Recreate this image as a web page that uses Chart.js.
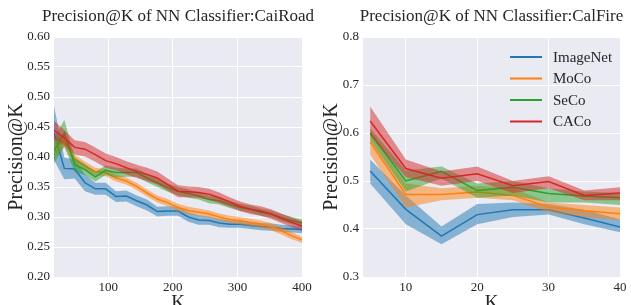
<!DOCTYPE html>
<html lang="en">
<head>
    <meta charset="UTF-8">
    <title>Precision@K of NN Classifier</title>
    <style>
        body {
            margin: 0;
            padding: 0;
            background: #ffffff;
            overflow: hidden;
        }
        #wrap {
            position: relative;
            width: 631px;
            height: 305px;
            overflow: hidden;
        }
        #roadChart {
            position: absolute;
            left: 0;
            top: 0;
        }
        #fireChart {
            position: absolute;
            left: 315px;
            top: 0;
        }
    </style>
</head>
<body>
    <div id="wrap">
        <canvas id="roadChart" width="315" height="320"></canvas>
        <canvas id="fireChart" width="316" height="320"></canvas>
    </div>

    <script src="https://cdn.jsdelivr.net/npm/chart.js"></script>
    <script>
        const methods = ['ImageNet', 'MoCo', 'SeCo', 'CACo'];
        const colors = ['#1f77b4', '#ff7f0e', '#2ca02c', '#d62728'];
        const bands = ['rgba(31,119,180,0.5)', 'rgba(255,127,14,0.5)', 'rgba(44,160,44,0.5)', 'rgba(214,39,40,0.5)'];

        // CaiRoad
        const roadK = [16, 32, 48, 64, 80, 96, 112, 128, 144, 160, 176, 192, 208, 224, 240, 256, 272, 288, 304, 320, 336, 352, 368, 384, 400];
        const roadImageNet = [.440, .381, .380, .357, .347, .347, .334, .335, .327, .320, .309, .310, .310, .300, .295, .294, .290, .288, .288, .286, .284, .283, .281, .280, .279];
        const roadMoCo = [.413, .428, .396, .385, .376, .374, .365, .360, .351, .340, .330, .324, .316, .311, .308, .305, .300, .296, .294, .291, .288, .284, .277, .269, .262];
        const roadSeCo = [.410, .440, .387, .379, .367, .378, .374, .374, .374, .365, .357, .349, .343, .339, .335, .329, .327, .321, .316, .313, .308, .305, .299, .294, .290];
        const roadCACo = [.445, .432, .416, .413, .404, .394, .389, .382, .376, .371, .365, .354, .343, .342, .341, .338, .332, .325, .318, .313, .310, .305, .298, .291, .285];
        // half width of the shaded band
        const roadImageNetSd = [.045, .018, .016, .014, .010, .010, .009, .009, .009, .009, .008, .008, .008, .008, .008, .007, .007, .006, .006, .006, .006, .006, .006, .006, .006];
        const roadMoCoSd = [.015, .012, .008, .007, .006, .006, .006, .006, .006, .006, .006, .006, .006, .006, .006, .006, .006, .006, .006, .006, .006, .006, .006, .006, .005];
        const roadSeCoSd = [.020, .022, .012, .009, .008, .008, .008, .007, .007, .007, .007, .007, .007, .007, .006, .006, .006, .006, .006, .006, .006, .006, .006, .006, .006];
        const roadCACoSd = [.015, .013, .012, .012, .012, .012, .011, .011, .011, .011, .011, .010, .010, .009, .009, .009, .009, .008, .008, .008, .008, .008, .008, .008, .008];
        const roadYTicks = [0.20, 0.25, 0.30, 0.35, 0.40, 0.45, 0.50, 0.55, 0.60];
        const roadXTicks = [100, 200, 300, 400];

        // CalFire
        const fireK = [5, 10, 15, 20, 25, 30, 35, 40];
        const fireImageNet = [.521, .441, .385, .430, .440, .440, .423, .404];
        const fireImageNetHi = [.545, .470, .405, .452, .455, .452, .440, .420];
        const fireImageNetLo = [.495, .410, .368, .410, .425, .430, .410, .393];
        const fireMoCo = [.581, .472, .472, .477, .470, .446, .438, .432];
        const fireMoCoHi = [.600, .495, .485, .490, .485, .455, .450, .445];
        const fireMoCoLo = [.555, .445, .460, .465, .460, .435, .425, .418];
        const fireSeCo = [.600, .500, .520, .480, .487, .474, .469, .465];
        const fireSeCoHi = [.610, .522, .530, .495, .500, .485, .478, .475];
        const fireSeCoLo = [.585, .478, .505, .465, .470, .455, .455, .450];
        const fireCACo = [.625, .526, .506, .515, .490, .499, .470, .475];
        const fireCACoHi = [.655, .545, .520, .530, .500, .510, .480, .487];
        const fireCACoLo = [.595, .508, .490, .500, .475, .485, .460, .460];
        const fireYTicks = [0.3, 0.4, 0.5, 0.6, 0.7, 0.8];
        const fireXTicks = [10, 20, 30, 40];

        const serif = "'Liberation Serif', 'DejaVu Serif', serif";
        const textColor = '#262626';

        function pts(xs, ys) {
            return xs.map((x, i) => ({x: x, y: ys[i]}));
        }

        function buildSets(xs, lines, his, los) {
            const sets = [];
            lines.forEach((vals, s) => {
                const order = 3 - s;
                sets.push({data: pts(xs, his[s]), borderWidth: 0, pointRadius: 0, fill: '+1',
                    backgroundColor: bands[s], order: order});
                sets.push({data: pts(xs, los[s]), borderWidth: 0, pointRadius: 0, fill: false, order: order});
                sets.push({label: methods[s], data: pts(xs, vals), borderColor: colors[s], borderWidth: 1.5,
                    pointRadius: 0, fill: false, order: order});
            });
            return sets;
        }

        const titlePlugin = {
            id: 'plotTitle',
            afterDraw(chart, args, opts) {
                const ctx = chart.ctx;
                const a = chart.chartArea;
                ctx.save();
                ctx.font = '17px ' + serif;
                ctx.fillStyle = textColor;
                ctx.textAlign = 'center';
                ctx.textBaseline = 'middle';
                ctx.fillText(opts.text, (a.left + a.right) / 2, 17);
                ctx.restore();
            }
        };

        const legendPlugin = {
            id: 'innerLegend',
            afterDraw(chart, args, opts) {
                if (!opts.show) return;
                const ctx = chart.ctx;
                const rows = [57, 78.5, 100, 121.5];
                ctx.save();
                ctx.font = '15px ' + serif;
                ctx.textBaseline = 'middle';
                methods.forEach((m, i) => {
                    ctx.strokeStyle = colors[i];
                    ctx.lineWidth = 2;
                    ctx.beginPath();
                    ctx.moveTo(195, rows[i]);
                    ctx.lineTo(227, rows[i]);
                    ctx.stroke();
                    ctx.fillStyle = textColor;
                    ctx.fillText(m, 238, rows[i] + 1);
                });
                ctx.restore();
            }
        };

        const bgPlugin = {
            id: 'plotBg',
            beforeDraw(chart) {
                const a = chart.chartArea;
                chart.ctx.save();
                chart.ctx.fillStyle = '#eaeaf2';
                chart.ctx.fillRect(a.left, a.top, a.right - a.left, a.bottom - a.top);
                chart.ctx.restore();
            }
        };

        function makeChart(id, cfg) {
            return new Chart(document.getElementById(id), {
                type: 'line',
                data: {datasets: cfg.sets},
                plugins: [bgPlugin, titlePlugin, legendPlugin],
                options: {
                    responsive: false,
                    animation: false,
                    layout: {padding: {left: 0, top: 37, right: cfg.padRight, bottom: 0}},
                    plugins: {
                        legend: {display: false},
                        tooltip: {enabled: false},
                        plotTitle: {text: cfg.title},
                        innerLegend: {show: cfg.legend}
                    },
                    scales: {
                        x: {
                            type: 'linear',
                            min: cfg.xMin,
                            max: cfg.xMax,
                            afterBuildTicks: s => { s.ticks = cfg.xTicks.map(v => ({value: v})); },
                            afterFit: s => { s.height = 43; },
                            grid: {color: '#ffffff', lineWidth: 1, drawTicks: false},
                            border: {display: false},
                            ticks: {color: textColor, font: {family: serif, size: 13}, padding: 3, maxRotation: 0},
                            title: {display: true, text: 'K', color: textColor,
                                font: {family: serif, size: 19}, padding: {top: 0, bottom: 6}}
                        },
                        y: {
                            min: cfg.yMin,
                            max: cfg.yMax,
                            afterBuildTicks: s => { s.ticks = cfg.yTicks.map(v => ({value: v})); },
                            afterFit: s => { s.width = cfg.yWidth; },
                            grid: {color: '#ffffff', lineWidth: 1, drawTicks: false},
                            border: {display: false},
                            ticks: {color: textColor, font: {family: serif, size: 13}, padding: 4,
                                callback: v => v.toFixed(cfg.digits)},
                            title: {display: true, text: 'Precision@K', color: textColor,
                                font: {family: serif, size: 20}, padding: {top: 5, bottom: 0}}
                        }
                    }
                }
            });
        }

        makeChart('roadChart', {
            sets: buildSets(roadK,
                [roadImageNet, roadMoCo, roadSeCo, roadCACo],
                [roadImageNet.map((v, i) => v + roadImageNetSd[i]), roadMoCo.map((v, i) => v + roadMoCoSd[i]),
                 roadSeCo.map((v, i) => v + roadSeCoSd[i]), roadCACo.map((v, i) => v + roadCACoSd[i])],
                [roadImageNet.map((v, i) => v - roadImageNetSd[i]), roadMoCo.map((v, i) => v - roadMoCoSd[i]),
                 roadSeCo.map((v, i) => v - roadSeCoSd[i]), roadCACo.map((v, i) => v - roadCACoSd[i])]),
            title: 'Precision@K of NN Classifier:CaiRoad',
            legend: false,
            padRight: 13,
            yWidth: 54,
            xMin: 16, xMax: 400, xTicks: roadXTicks,
            yMin: 0.20, yMax: 0.60, yTicks: roadYTicks, digits: 2
        });

        makeChart('fireChart', {
            sets: buildSets(fireK,
                [fireImageNet, fireMoCo, fireSeCo, fireCACo],
                [fireImageNetHi, fireMoCoHi, fireSeCoHi, fireCACoHi],
                [fireImageNetLo, fireMoCoLo, fireSeCoLo, fireCACoLo]),
            title: 'Precision@K of NN Classifier:CalFire',
            legend: true,
            padRight: 11,
            yWidth: 48,
            xMin: 4, xMax: 40, xTicks: fireXTicks,
            yMin: 0.3, yMax: 0.8, yTicks: fireYTicks, digits: 1
        });
    </script>
</body>
</html>
